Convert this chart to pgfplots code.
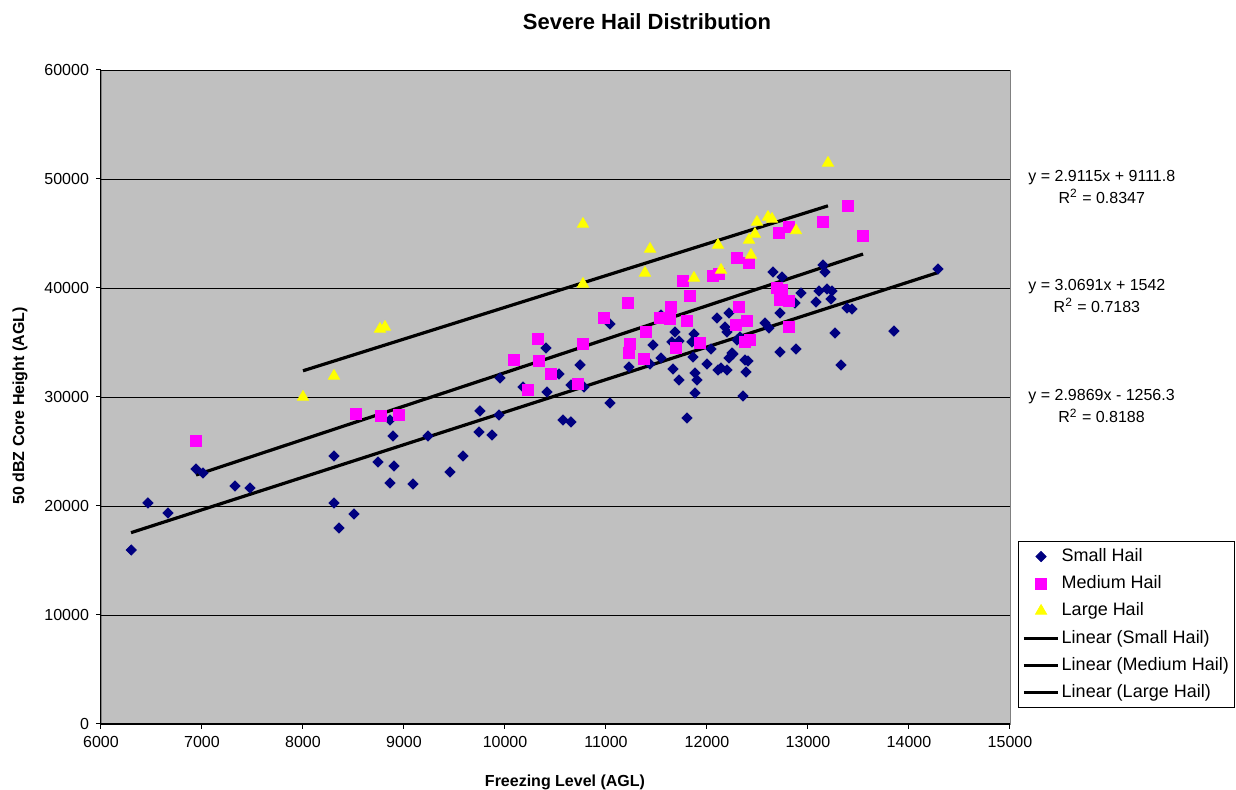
\documentclass[border=0pt]{standalone}
\usepackage{pgfplots}
\pgfplotsset{compat=1.18}
\usepackage{fontspec}
\setmainfont{Liberation Sans}
\definecolor{plotbg}{RGB}{192,192,192}
\definecolor{navy}{RGB}{0,0,128}
\definecolor{mag}{RGB}{255,0,255}
\definecolor{yel}{RGB}{255,255,0}
\begin{document}
\begin{tikzpicture}
\path[use as bounding box] (-50.5pt,-33pt) rectangle (567.5pt,362pt);
\begin{axis}[
  scale only axis, width=454.5pt, height=327pt,
  at={(0pt,0pt)}, anchor=south west,
  xmin=6000, xmax=15000, ymin=0, ymax=60000,
  xtick={6000,7000,...,15000}, ytick={0,10000,...,60000},
  scaled x ticks=false, scaled y ticks=false,
  /pgf/number format/fixed, /pgf/number format/1000 sep={},
  /pgf/number format/assume math mode=true,
  ticklabel style={font=\fontsize{8}{9.6}\selectfont},
  axis x line=bottom, axis y line=left,
  axis line style={-, black, line width=0.5pt},
  axis background/.style={fill=plotbg, draw=gray},
  tick align=outside, major tick length=2.5pt,
  tick style={black, line width=0.5pt},
  ymajorgrids, grid style={black, line width=0.4pt},
  clip=false,
  legend style={at={(1.0088,0.0245)}, anchor=south west, draw=black, fill=white,
    font=\fontsize{9}{10.8}\selectfont, row sep=2.6pt, inner sep=2pt,
    nodes={inner sep=1pt, text height=7pt, text depth=2pt}},
  legend cell align=left,
]
\addplot[only marks, mark=square*, mark size=1.8pt, mark options={rotate=45, fill=navy, draw=navy}] table {
x y
6300 15960
6465 20280
6663 19360
6941 23390
7010 23030
7327 21830
7475 21650
8307 24590
8307 20280
8356 17980
8505 19270
8743 24040
8861 27890
8891 26420
8901 23670
8861 22110
9089 22020
9238 26420
9455 23120
9584 24590
9743 26790
9871 26510
9752 28720
9941 28350
9950 31740
10178 30920
10416 30460
10574 27890
10653 27710
10406 34490
10535 32110
10653 31100
10743 32940
10782 30920
11040 36700
11040 29450
11228 32750
11436 33030
11465 34770
11545 33580
11545 37520
11683 35960
11653 35050
11723 35140
11871 35780
11851 35050
11663 32570
11861 33670
11723 31560
11881 32200
11901 31560
12000 33030
12040 34400
12109 32480
12198 32480
12099 37250
12218 37710
12178 36420
12198 35960
12248 34040
12218 33580
11881 30370
11802 28070
12653 41470
12743 41010
13149 42110
13168 41470
12931 39540
13109 39720
13188 39910
13238 39720
12871 38620
13079 38710
13228 38990
12723 37710
13386 38160
13436 38070
12574 36790
12614 36330
12327 35500
12297 35230
13267 35870
12723 34130
12881 34400
12257 33940
12376 33390
12406 33300
12386 32290
13327 32940
12356 30090
13851 36050
14287 41740
12139 32660
};
\addlegendentry{Small Hail}
\addplot[only marks, mark=square*, mark size=2.65pt, mark options={fill=mag, draw=mag}] table {
x y
6941 25960
8525 28440
8772 28260
8950 28350
10089 33390
10327 35320
10337 33300
10455 32110
10228 30640
10723 31190
10772 34860
10980 37250
11218 38620
11238 34860
11228 34040
11376 33490
11396 35960
11644 38260
11535 37250
11634 37160
11802 36970
11693 34490
11931 34950
11762 40640
11832 39270
12059 41100
12119 41280
12297 42750
12416 42290
12713 45040
12812 45600
12317 38260
12396 36970
12287 36600
12812 36420
12376 35050
12426 35230
12693 40000
12743 39820
12723 38900
12812 38810
13396 47520
13149 46050
13545 44770
};
\addlegendentry{Medium Hail}
\addplot[only marks, mark=triangle*, mark size=3.2pt, mark options={fill=yel, draw=yel}] table {
x y
8000 30000
8307 31930
8762 36240
8812 36420
10772 45870
10772 40370
11436 43580
11386 41380
11871 40920
12109 43940
12139 41650
12416 44400
12436 43030
12475 44950
12495 46050
12604 46510
12644 46330
12881 45270
13198 51470
};
\addlegendentry{Large Hail}
\addplot[black, line width=1.6pt, no marks] coordinates {(6297,17552) (14287,41418)};
\addlegendentry{Linear (Small Hail)}
\addplot[black, line width=1.6pt, no marks] coordinates {(6941,22845) (13545,43113)};
\addlegendentry{Linear (Medium Hail)}
\addplot[black, line width=1.6pt, no marks] coordinates {(8000,32404) (13198,47538)};
\addlegendentry{Linear (Large Hail)}
\end{axis}
\node[font=\bfseries\fontsize{11}{13}\selectfont] at (273pt,351pt) {Severe Hail Distribution};
\node[font=\bfseries\fontsize{8}{9.6}\selectfont, rotate=90] at (-40.5pt,159pt) {50 dBZ Core Height (AGL)};
\node[font=\bfseries\fontsize{8}{9.6}\selectfont] at (232pt,-29pt) {Freezing Level (AGL)};
\node[anchor=west, align=center, inner sep=0pt, font=\fontsize{8}{11}\selectfont] at (463.5pt,268.5pt) {y = 2.9115x + 9111.8\\R\textsuperscript{2} = 0.8347};
\node[anchor=west, align=center, inner sep=0pt, font=\fontsize{8}{11}\selectfont] at (463.5pt,214pt) {y = 3.0691x + 1542\\R\textsuperscript{2} = 0.7183};
\node[anchor=west, align=center, inner sep=0pt, font=\fontsize{8}{11}\selectfont] at (463.5pt,158.75pt) {y = 2.9869x - 1256.3\\R\textsuperscript{2} = 0.8188};
\end{tikzpicture}
\end{document}
